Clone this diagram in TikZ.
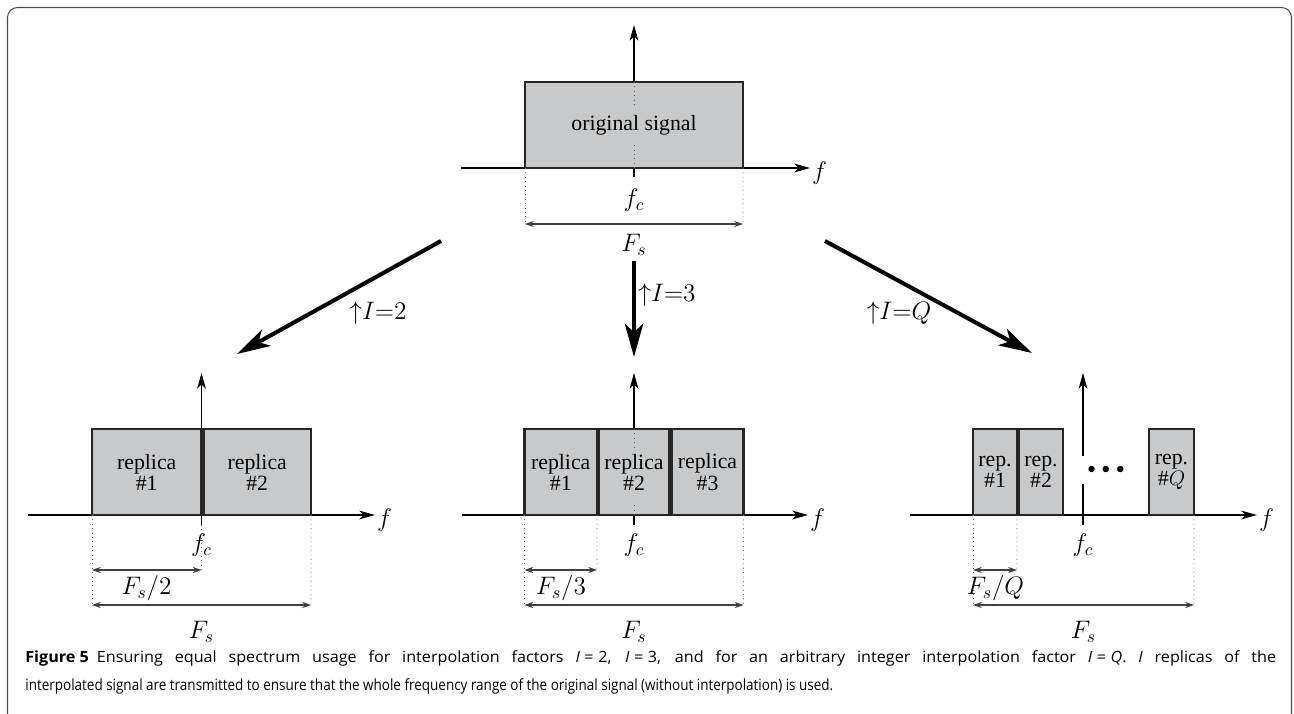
\documentclass[tikz,border=0pt]{standalone}
\usepackage{graphicx}
\usepackage{fontspec}
\setmainfont{Liberation Serif}
\newfontfamily\capfont{Open Sans}
\usetikzlibrary{arrows.meta}
\definecolor{boxgray}{RGB}{200,201,203}
\newsavebox\captwo
\newcommand\capsize{\capfont\fontsize{8.8}{10}\selectfont}
\newcommand\capeq[1]{\textit{I}\kern0.28em=\kern0.28em#1}
\begin{document}
\sbox\captwo{\capsize interpolated signal are transmitted to ensure that the whole frequency range of the original signal (without interpolation) is used.}
\begin{tikzpicture}[
  x=0.02cm, y=-0.02cm,
  band/.style={draw=black!85, line width=1.2pt, fill=boxgray, inner sep=0pt, outer sep=0pt, anchor=south west, minimum height=1.72cm, font=\fontsize{12.4}{12}\selectfont, align=center},
  axis/.style={line width=0.6pt, -{Stealth[length=9pt, width=5pt, inset=2.5pt]}},
  guide/.style={draw=black!60, dotted, line width=0.5pt},
  dim/.style={draw=black!75, line width=0.6pt, {Stealth[length=5pt, width=3.5pt, inset=1.5pt]}-{Stealth[length=5pt, width=3.5pt, inset=1.5pt]}},
  interp/.style={line width=2.3pt, -{Stealth[length=19pt, width=10.5pt, inset=5pt]}},
  lbl/.style={font=\fontsize{14.5}{17}\selectfont, inner sep=1pt},
  flbl/.style={lbl, anchor=west, yshift=-3pt}
]
\useasboundingbox (0,0) rectangle (1294,713);
\draw[black!70, line width=0.6pt, rounded corners=0.2cm] (7.5,720) -- (7.5,7.5) -- (1291.5,7.5) -- (1291.5,720);

% Original signal
\coordinate (a0w) at (461,168);
\coordinate (a0e) at (810,168);
\coordinate (v0s) at (634,177);
\coordinate (v0n) at (634,25);
\draw[axis] (a0w) -- (a0e);
\draw[axis] (v0s) -- (v0n);
\node[band, minimum width=4.36cm] (orig) at (525,168) {original signal};
\draw[guide] (orig.north) -- ++(0,23);
\draw[guide] (orig.south) -- ++(0,-25);
\node[flbl] (f0) at (a0e) {$f$};
\node[lbl] (fc0) at (634,200) {$f_c$};
\coordinate (d0l) at (525,224);
\coordinate (d0r) at (743,224);
\draw[guide] (orig.south west) -- (d0l);
\draw[guide] (orig.south east) -- (d0r);
\draw[dim] (d0l) -- (d0r);
\node[lbl] (fs0) at (634,245) {$F_s$};

% Interpolation
\coordinate (i2s) at (441,241);
\coordinate (i2e) at (237,354);
\coordinate (i3s) at (634,261);
\coordinate (i3e) at (634,357);
\coordinate (iqs) at (825,241);
\coordinate (iqe) at (1032,353);
\draw[interp] (i2s) -- (i2e);
\draw[interp] (i3s) -- (i3e);
\draw[interp] (iqs) -- (iqe);
\node[lbl] (up2) at (378,313) {$\mathord{\uparrow}I{=}2$};
\node[lbl] (up3) at (667,295) {$\mathord{\uparrow}I{=}3$};
\node[lbl] (upq) at (899,313) {$\mathord{\uparrow}I{=}Q$};

% I = 2
\coordinate (a2w) at (28,515);
\coordinate (a2e) at (375,515);
\coordinate (v2s) at (201.5,525);
\coordinate (v2n) at (201.5,373);
\draw[axis] (a2w) -- (a2e);
\draw[axis] (v2s) -- (v2n);
\node[band, minimum width=2.19cm] (r21) at (92,515) {replica\\\#1};
\node[band, minimum width=2.15cm] (r22) at (203.5,515) {replica\\\#2};
\node[flbl] (f2) at (a2e) {$f$};
\node[lbl] (fc2) at (201.5,545) {$f_c$};
\coordinate (h2l) at (92,570);
\coordinate (h2r) at (201.5,570);
\coordinate (d2l) at (92,605);
\coordinate (d2r) at (311,605);
\draw[guide] (r21.south west) -- (d2l);
\draw[guide] (v2s) -- (h2r);
\draw[guide] (r22.south east) -- (d2r);
\draw[dim] (h2l) -- (h2r);
\draw[dim] (d2l) -- (d2r);
\node[lbl] (fh2) at (146.5,588) {$F_s/2$};
\node[lbl] (fs2) at (201.5,632) {$F_s$};

% I = 3
\coordinate (a3w) at (462,515);
\coordinate (a3e) at (808,515);
\coordinate (v3s) at (634,525);
\coordinate (v3n) at (634,373);
\draw[axis] (a3w) -- (a3e);
\draw[axis] (v3s) -- (v3n);
\node[band, minimum width=1.45cm] (r31) at (524.5,515) {replica\\\#1};
\node[band, minimum width=1.42cm] (r32) at (598.5,515) {replica\\\#2};
\node[band, minimum width=1.44cm] (r33) at (671.5,515) {replica\\\#3};
\draw[guide] (r32.north) -- ++(0,19);
\draw[guide] (r32.south) -- ++(0,-13);
\node[flbl] (f3) at (a3e) {$f$};
\node[lbl] (fc3) at (634,545) {$f_c$};
\coordinate (h3l) at (524.5,570);
\coordinate (h3r) at (597,570);
\coordinate (d3l) at (524.5,605);
\coordinate (d3r) at (743.5,605);
\draw[guide] (r31.south west) -- (d3l);
\draw[guide] (r31.south east) -- (h3r);
\draw[guide] (r33.south east) -- (d3r);
\draw[dim] (h3l) -- (h3r);
\draw[dim] (d3l) -- (d3r);
\node[lbl] (fh3) at (561,588) {$F_s/3$};
\node[lbl] (fs3) at (634,632) {$F_s$};

% I = Q
\coordinate (aqw) at (910,515);
\coordinate (aqe) at (1257,515);
\coordinate (vqs) at (1083,525);
\coordinate (vqn) at (1083,373);
\draw[axis] (aqw) -- (aqe);
\draw[axis] (vqs) -- (vqn);
\node[band, minimum width=0.88cm] (rq1) at (973,515) {rep.\\\#1};
\node[band, minimum width=0.88cm] (rq2) at (1019,515) {rep.\\\#2};
\node[band, minimum width=0.9cm] (rqq) at (1149,515) {rep.\\\#$Q$};
\node[fill=white, inner sep=0pt, minimum width=1cm, minimum height=0.56cm] (dots) at (1106,470) {\fontsize{9}{9}\selectfont$\bullet\,\bullet\,\bullet$};
\node[flbl] (fq) at (aqe) {$f$};
\node[lbl] (fcq) at (1083,545) {$f_c$};
\coordinate (hql) at (973,570);
\coordinate (hqr) at (1017,570);
\coordinate (dql) at (973,605);
\coordinate (dqr) at (1194,605);
\draw[guide] (rq1.south west) -- (dql);
\draw[guide] (rq1.south east) -- (hqr);
\draw[guide] (rqq.south east) -- (dqr);
\draw[dim] (hql) -- (hqr);
\draw[dim] (dql) -- (dqr);
\node[lbl] (fhq) at (995.5,588) {$F_s/Q$};
\node[lbl] (fsq) at (1083.5,632) {$F_s$};

% Caption
\node[anchor=base west, inner sep=0pt] (cap1) at (25,662) {\resizebox{25.02cm}{\height}{\makebox[\numexpr\wd\captwo*2502/1616*10/12\relax sp][s]{\capsize\textbf{Figure\kern0.25em5}\kern0.5em Ensuring equal spectrum usage for interpolation factors \capeq{2}, \capeq{3}, and for an arbitrary integer interpolation factor \capeq{\textit{Q}}. \textit{I} replicas of the}}};
\node[anchor=base west, inner sep=0pt] (cap2) at (25,690) {\resizebox{16.16cm}{\height}{\usebox\captwo}};
\end{tikzpicture}
\end{document}
